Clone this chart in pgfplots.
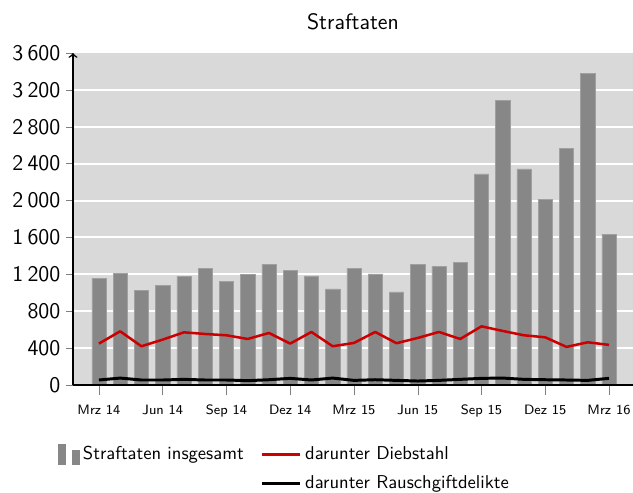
\documentclass[border=0pt]{standalone}
\usepackage{pgfplots}
\pgfplotsset{compat=1.18}
\usetikzlibrary{calc}
\renewcommand{\familydefault}{\sfdefault}
\definecolor{bggray}{RGB}{217,217,217}
\definecolor{barfill}{RGB}{135,135,135}
\definecolor{baredge}{RGB}{160,160,160}
\definecolor{dred}{RGB}{204,0,0}
\begin{document}
\begin{tikzpicture}
\begin{axis}[
  axis on top,
  at={(0,0)}, anchor=south west,
  scale only axis,
  width=301.1pt, height=178.5pt,
  xmin=-1.22, xmax=25.13,
  ymin=0, ymax=3600,
  axis background/.style={fill=bggray,
    path picture={
      \foreach \i in {1,...,8}{
        \draw[white, line width=1.1pt]
          ($(path picture bounding box.south west)!\i/9!(path picture bounding box.north west)$) --
          ($(path picture bounding box.south east)!\i/9!(path picture bounding box.north east)$);
      }
    }},
  axis y line*=left,
  axis x line*=bottom,
  y axis line style={->, line width=0.8pt, black},
  x axis line style={-, line width=0.8pt, black},
  ytick={0,400,...,3600},
  xtick={0,3,...,24},
  xticklabels={Mrz 14,Jun 14,Sep 14,Dez 14,Mrz 15,Jun 15,Sep 15,Dez 15,Mrz 16},
  xticklabel style={font=\fontsize{7.3}{9}\selectfont, yshift=-3pt},
  yticklabel style={font=\fontsize{12}{14}\selectfont, xshift=1pt},
  tick align=outside,
  xtick style={draw=gray, /pgfplots/major tick length=5.4pt},
  ytick style={draw=gray, /pgfplots/major tick length=3.6pt},
  scaled ticks=false,
  /pgf/number format/assume math mode=true,
  /pgf/number format/1000 sep={\hspace{0.19em}},
  title={Straftaten},
  title style={font=\fontsize{12}{14}\selectfont, at={(0.5,1)}, anchor=base, yshift=6.4pt},
  legend columns=2,
  legend cell align=left,
  legend style={draw=none, fill=none, at={(-0.028,-0.173)}, anchor=north west,
    inner sep=0pt, nodes={inner sep=2pt},
    font=\normalsize, /tikz/every even column/.append style={column sep=0.7em},
    row sep=3.1pt},
]
\addplot[ybar, bar width=0.67, bar shift=0pt, fill=barfill, draw=baredge, line width=0.3pt,
  legend image code/.code={%
    \fill[barfill] (0pt,-5.4pt) rectangle (3.8pt,5.4pt);
    \fill[barfill] (7.5pt,-5.4pt) rectangle (11.3pt,2.3pt);}] table {
x y
0 1157
1 1211
2 1028
3 1078
4 1178
5 1268
6 1125
7 1200
8 1308
9 1243
10 1182
11 1042
12 1265
13 1204
14 1010
15 1308
16 1290
17 1333
18 2290
19 3088
20 2344
21 2010
22 2563
23 3379
24 1632
};
\addlegendentry{Straftaten insgesamt}
\addplot[dred, line width=1.35pt, line join=round,
  legend image code/.code={\draw[dred, line width=1.35pt] (0pt,0pt) -- (20.4pt,0pt);}] table {
x y
0 449
1 582
2 420
3 492
4 571
5 553
6 539
7 499
8 564
9 449
10 575
11 420
12 456
13 575
14 453
15 510
16 575
17 499
18 636
19 586
20 539
21 517
22 413
23 463
24 435
};
\addlegendentry{darunter Diebstahl}
\addlegendimage{empty legend}
\addlegendentry{}
\addplot[black, line width=1.6pt, line join=round,
  legend image code/.code={\draw[black, line width=1.6pt] (0pt,0pt) -- (20.4pt,0pt);}] table {
x y
0 54
1 75
2 54
3 54
4 61
5 54
6 54
7 47
8 57
9 72
10 54
11 75
12 50
13 57
14 50
15 43
16 50
17 61
18 72
19 75
20 61
21 57
22 54
23 50
24 72
};
\addlegendentry{darunter Rauschgiftdelikte}
\end{axis}
\pgfresetboundingbox
\useasboundingbox (-39.25pt,-58.06pt) rectangle (301.1pt,207pt);
\end{tikzpicture}
\end{document}
